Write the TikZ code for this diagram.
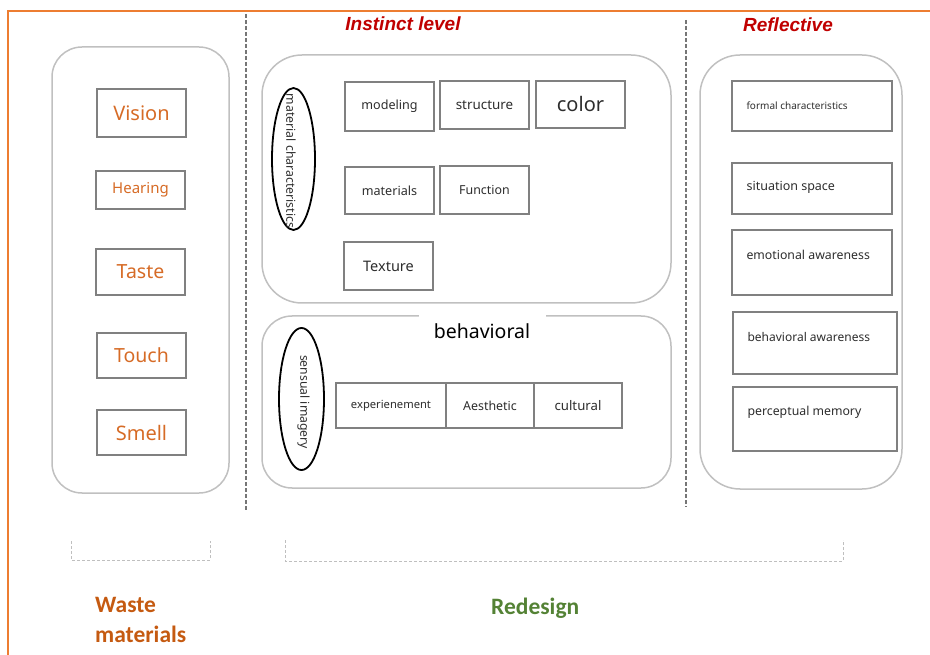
\documentclass[tikz,border=0pt]{standalone}
\usepackage{fontspec}
\setmainfont{Noto Sans}
\newfontfamily\headfont{Liberation Sans}
\newfontfamily\notefont{Carlito}
\usetikzlibrary{shapes.geometric}

% font size in pixels of the page
\newcommand{\pxfont}[1]{\fontsize{#1}{#1}\selectfont}

\begin{document}
\begin{tikzpicture}[%
        % one unit is one pixel of the page, y grows downwards
        x=1pt,y=-1pt,
        % panels and boxes
        panel/.style={draw=panelgray,line width=1.5pt,rounded corners=#1},
        panel/.default=30pt,
        sensebox/.style={draw=boxgray,line width=1.3pt,inner sep=0pt,text=senseorange},
        itembox/.style={draw=boxgray,line width=1.3pt,inner sep=0pt,text=itemgray},
        ovalbox/.style={ellipse,draw=black,line width=1.8pt,inner sep=0pt},
        itemtext/.style={text=itemgray,inner sep=0pt},
        % titles and lines
        leveltitle/.style={text=levelred,font=\headfont\bfseries\itshape\pxfont{19}},
        divider/.style={draw=dividergray,line width=1.4pt,dash pattern=on 4pt off 2pt},
        bracket/.style={draw=bracketgray,line width=1pt,dash pattern=on 3pt off 2pt},
        ]

        \definecolor{framecolor}{RGB}{237,125,49}
        \definecolor{panelgray}{RGB}{192,192,192}
        \definecolor{boxgray}{RGB}{128,128,128}
        \definecolor{itemgray}{RGB}{45,45,45}
        \definecolor{senseorange}{RGB}{214,107,38}
        \definecolor{levelred}{RGB}{192,0,0}
        \definecolor{dividergray}{RGB}{118,118,118}
        \definecolor{bracketgray}{RGB}{191,191,191}
        \definecolor{wastecolor}{RGB}{197,90,17}
        \definecolor{redesigncolor}{RGB}{84,130,53}

        \def\W{930};
        \def\H{655};
        \useasboundingbox (0,0) rectangle (\W,\H);

        \coordinate (senseTL) at (52,47);    % top left of senses panel
        \coordinate (senseBR) at (229,493);  % bottom right of senses panel
        \coordinate (instTL) at (262,55);    % top left of instinct panel
        \coordinate (instBR) at (671,303);   % bottom right of instinct panel
        \coordinate (behTL) at (262,316);    % top left of behavioral panel
        \coordinate (behBR) at (671,488);    % bottom right of behavioral panel
        \coordinate (reflTL) at (700,55);    % top left of reflective panel
        \coordinate (reflBR) at (902,489);   % bottom right of reflective panel

        % page frame
        \draw[framecolor,line width=2pt] (8,\H) -- (8,11) -- (\W,11);

        % draw dashed dividers
        \coordinate (divAtop) at (246,14);
        \coordinate (divAbot) at (246,510);
        \coordinate (divBtop) at (686,20);
        \coordinate (divBbot) at (686,507);
        \draw[divider] (divAtop) -- (divAbot);
        \draw[divider] (divBtop) -- (divBbot);

        % draw panels
        \draw[panel] (senseTL) rectangle (senseBR);
        \draw[panel=40pt] (instTL) rectangle (instBR);
        \draw[panel] (behTL) rectangle (behBR);
        \draw[panel=40pt] (reflTL) rectangle (reflBR);

        % level titles
        \node[leveltitle] (instinct) at (403,24) {Instinct level};
        \node[leveltitle] (reflective) at (788,25) {Reflective};

        % senses
        \node[sensebox,minimum width=89,minimum height=48,font=\pxfont{20}] (vision) at (141.5,113) {Vision};
        \node[sensebox,minimum width=89,minimum height=38,font=\pxfont{15}] (hearing) at (140.5,190) {Hearing};
        \node[sensebox,minimum width=89,minimum height=46,font=\pxfont{19.5}] (taste) at (140.5,272) {Taste};
        \node[sensebox,minimum width=89,minimum height=45,font=\pxfont{19.5}] (touch) at (141.5,355.5) {Touch};
        \node[sensebox,minimum width=89,minimum height=45,font=\pxfont{20}] (smell) at (141.5,432.5) {Smell};

        % instinct level
        \node[ovalbox,minimum width=43,minimum height=142] (matoval) at (293.5,159) {};
        \node[itemtext,rotate=-90,font=\pxfont{12.3}] (mattext) at (291,161) {material characteristics};
        \node[itembox,minimum width=89,minimum height=49,font=\pxfont{12.6}] (modeling) at (389.5,106.5) {modeling};
        \node[itembox,minimum width=89,minimum height=48,font=\pxfont{13.4}] (structure) at (484.5,105) {structure};
        \node[itembox,minimum width=89,minimum height=47,font=\pxfont{20}] (color) at (580.5,104.5) {color};
        \node[itembox,minimum width=89,minimum height=47,font=\pxfont{12.6}] (materials) at (389.5,190.5) {materials};
        \node[itembox,minimum width=89,minimum height=48,font=\pxfont{12.4}] (function) at (484.5,190) {Function};
        \node[itembox,minimum width=89,minimum height=48,font=\pxfont{14.5}] (texture) at (388.5,266) {Texture};

        % behavioral level
        \node[fill=white,inner sep=0pt,minimum width=127,minimum height=34,text=black,font=\pxfont{19.5}] (behavioral) at (482,331) {behavioral};
        \node[ovalbox,minimum width=45,minimum height=142] (senoval) at (301.5,399) {};
        \node[itemtext,rotate=-90,font=\pxfont{12.2}] (sentext) at (303.5,402) {sensual imagery};
        \node[itembox,minimum width=110,minimum height=45,font=\pxfont{11.2}] (experience) at (391,405.5) {experienement};
        \node[itembox,minimum width=88,minimum height=45,font=\pxfont{12.4}] (aesthetic) at (490,405.5) {Aesthetic};
        \node[itembox,minimum width=88,minimum height=45,font=\pxfont{13.2}] (cultural) at (578,405.5) {cultural};

        % reflective level
        \node[itembox,minimum width=160,minimum height=50] (formal) at (812,106) {};
        \node[itembox,minimum width=160,minimum height=51] (situation) at (812,188.5) {};
        \node[itembox,minimum width=160,minimum height=65] (emotional) at (812,262.5) {};
        \node[itembox,minimum width=164,minimum height=62] (behaware) at (815,343) {};
        \node[itembox,minimum width=164,minimum height=64] (perceptual) at (815,419) {};
        \node[itemtext,anchor=west,font=\pxfont{10}] (formal-t) at ([xshift=15pt]formal.west) {formal characteristics};
        \node[itemtext,anchor=west,font=\pxfont{12.5}] (situation-t) at ([xshift=15pt,yshift=1pt]situation.west) {situation space};
        \node[itemtext,anchor=west,font=\pxfont{12.3}] (emotional-t) at ([xshift=15pt,yshift=7.5pt]emotional.west) {emotional awareness};
        \node[itemtext,anchor=west,font=\pxfont{12}] (behaware-t) at ([xshift=15pt,yshift=6pt]behaware.west) {behavioral awareness};
        \node[itemtext,anchor=west,font=\pxfont{12.3}] (perceptual-t) at ([xshift=15pt,yshift=7pt]perceptual.west) {perceptual memory};

        % brackets under the columns
        \coordinate (brAl) at (71,541);
        \coordinate (brAr) at (210,541);
        \coordinate (brBl) at (285,540);
        \coordinate (brBr) at (843,540);
        \draw[bracket] (brAl) -- ++(0,19) -| (brAr);
        \draw[bracket] (brBl) -- ++(0,21) -| (brBr);

        % column names
        \node[anchor=west,align=left,inner xsep=0pt,text=wastecolor,font=\notefont\bfseries\fontsize{23.5}{30}\selectfont] (waste) at (95,620) {Waste\\materials};
        \node[anchor=west,inner xsep=0pt,text=redesigncolor,font=\notefont\bfseries\pxfont{23.5}] (redesign) at (491,608) {Redesign};

    \end{tikzpicture}
\end{document}
